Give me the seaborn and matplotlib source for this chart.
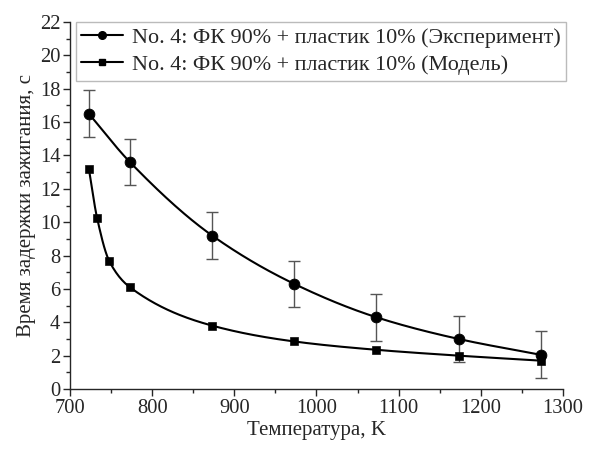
import numpy as np
import pandas as pd
import matplotlib
matplotlib.use("Agg")
import matplotlib.pyplot as plt
import seaborn as sns
from matplotlib.ticker import MultipleLocator

# experiment
exp_T = [723, 773, 873, 973, 1073, 1173, 1273]
exp_t = [16.5, 13.6, 9.2, 6.3, 4.3, 3.0, 2.05]
exp_err = [1.4, 1.4, 1.4, 1.4, 1.4, 1.4, 1.4]

# model
mod_T = [723, 733, 748, 773, 873, 973, 1073, 1173, 1273]
mod_t = [13.2, 10.25, 7.65, 6.1, 3.8, 2.85, 2.35, 2.0, 1.7]

label_exp = "No. 4: ФК 90% + пластик 10% (Эксперимент)"
label_mod = "No. 4: ФК 90% + пластик 10% (Модель)"


def pchip(x, y, xs):
    # monotone cubic curve through the points, only for drawing the line
    x = np.asarray(x, float)
    y = np.asarray(y, float)
    h = np.diff(x)
    d = np.diff(y) / h
    m = np.zeros_like(y)
    for k in range(1, len(x) - 1):
        if d[k - 1] * d[k] > 0:
            w1 = 2 * h[k] + h[k - 1]
            w2 = h[k] + 2 * h[k - 1]
            m[k] = (w1 + w2) / (w1 / d[k - 1] + w2 / d[k])
    m[0] = d[0]
    m[-1] = d[-1]
    idx = np.clip(np.searchsorted(x, xs) - 1, 0, len(x) - 2)
    t = (xs - x[idx]) / h[idx]
    h00 = 2 * t**3 - 3 * t**2 + 1
    h10 = t**3 - 2 * t**2 + t
    h01 = -2 * t**3 + 3 * t**2
    h11 = t**3 - t**2
    return h00 * y[idx] + h10 * h[idx] * m[idx] + h01 * y[idx + 1] + h11 * h[idx] * m[idx + 1]


sns.set_style("ticks")
plt.rcParams["font.family"] = ["Liberation Serif", "DejaVu Serif"]
plt.rcParams["xtick.direction"] = "out"
plt.rcParams["ytick.direction"] = "out"

fig = plt.figure(figsize=(5.9, 4.49), dpi=100)
ax = fig.add_axes([0.1186, 0.1336, 0.8356, 0.8174])

exp_df = pd.DataFrame({"T": exp_T, "t": exp_t})
mod_df = pd.DataFrame({"T": mod_T, "t": mod_t})

xs_e = np.linspace(exp_T[0], exp_T[-1], 300)
xs_m = np.linspace(mod_T[0], mod_T[-1], 300)
ax.plot(xs_e, pchip(exp_T, exp_t, xs_e), color="black", lw=1.5, zorder=2)
ax.plot(xs_m, pchip(mod_T, mod_t, xs_m), color="black", lw=1.5, zorder=2)

ax.errorbar(exp_T, exp_t, yerr=exp_err, fmt="none", ecolor="#555555",
            elinewidth=1.0, capsize=4, capthick=1.0, zorder=1)

sns.scatterplot(data=exp_df, x="T", y="t", ax=ax, marker="o", s=60,
                color="black", edgecolor="black", zorder=3, legend=False)
sns.scatterplot(data=mod_df, x="T", y="t", ax=ax, marker="s", s=32,
                color="black", edgecolor="black", zorder=3, legend=False)

h1, = ax.plot([], [], color="black", marker="o", ms=5.5, lw=1.5)
h2, = ax.plot([], [], color="black", marker="s", ms=4.5, lw=1.5)
leg = ax.legend([h1, h2], [label_exp, label_mod], loc="upper left",
                bbox_to_anchor=(0.012, 1.0), fontsize=15.9, frameon=True,
                fancybox=False, edgecolor="#aaaaaa", handlelength=1.9,
                handletextpad=0.4, borderpad=0.25, labelspacing=0.3,
                borderaxespad=0.0)
leg.get_frame().set_linewidth(1.0)

ax.set_xlim(700, 1300)
ax.set_ylim(0, 22)
ax.xaxis.set_major_locator(MultipleLocator(100))
ax.xaxis.set_minor_locator(MultipleLocator(50))
ax.yaxis.set_major_locator(MultipleLocator(2))
ax.yaxis.set_minor_locator(MultipleLocator(1))
ax.tick_params(which="major", length=5, width=1, labelsize=14.8, pad=2)
ax.tick_params(which="minor", length=3, width=1)
for s in ["left", "bottom"]:
    ax.spines[s].set_linewidth(1.0)
sns.despine(ax=ax)

ax.set_xlabel("Температура, K", fontsize=15, labelpad=2)
ax.set_ylabel("Время задержки зажигания, с", fontsize=15, labelpad=3)

fig.savefig("out.png", dpi=100)
